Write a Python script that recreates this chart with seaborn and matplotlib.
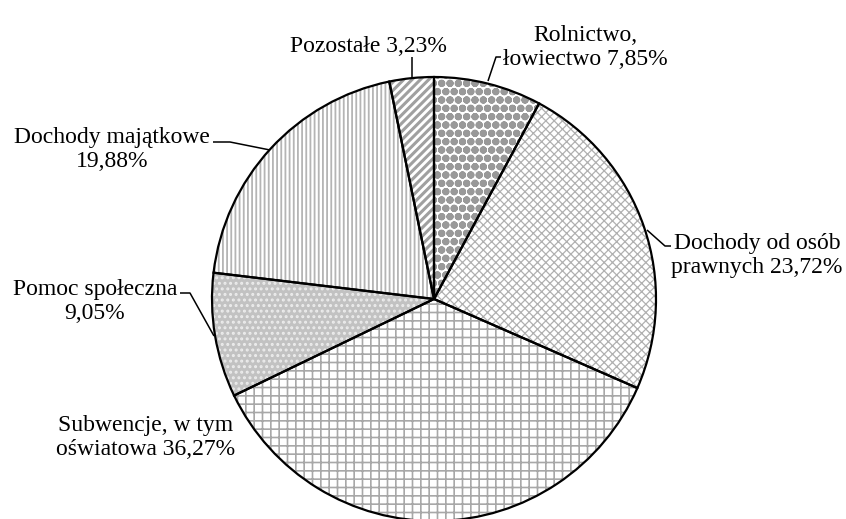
import matplotlib
matplotlib.use('Agg')
import matplotlib.pyplot as plt
import seaborn as sns

# ---- data ----
categories = ["Rolnictwo, łowiectwo", "Dochody od osób prawnych",
              "Subwencje, w tym oświatowa", "Pomoc społeczna",
              "Dochody majątkowe", "Pozostałe"]
shares = [7.85, 23.72, 36.27, 9.05, 19.88, 3.23]
label_texts = ["Rolnictwo,\nłowiectwo 7,85%", "Dochody od osób\nprawnych 23,72%",
               "Subwencje, w tym\noświatowa 36,27%", "Pomoc społeczna\n9,05%",
               "Dochody majątkowe\n19,88%", "Pozostałe 3,23%"]

# ---- styles ----
hatches = ['oo', 'xxxx', '++', '...', '||||', '////']
hatch_colors = ['#999999', '#b0b0b0', '#a8a8a8', '#ececec', '#b4b4b4', '#a0a0a0']
face_colors = ['white', 'white', 'white', '#c2c2c2', 'white', 'white']
hatch_lws = [2.8, 0.9, 1.2, 1.4, 1.3, 2.2]

sns.set_theme(style='white')
plt.rcParams['font.family'] = ['Liberation Serif', 'DejaVu Serif']

W, H = 846, 519
fig = plt.figure(figsize=(W / 100, H / 100), dpi=100)
ax = fig.add_axes([0, 0, 1, 1])

cx, cy, R = 434, H - 299, 222

# hatched fill layer
wedges, _ = ax.pie(shares, startangle=90, counterclock=False,
                   center=(cx, cy), radius=R)
for w, h, hc, fc, hl in zip(wedges, hatches, hatch_colors, face_colors, hatch_lws):
    w.set_facecolor(fc)
    w.set_edgecolor(hc)
    w.set_linewidth(0)
    w.set_hatch(h)
    if hasattr(w, 'set_hatch_linewidth'):
        w.set_hatch_linewidth(hl)

# outline layer
wedges2, _ = ax.pie(shares, startangle=90, counterclock=False,
                    center=(cx, cy), radius=R,
                    wedgeprops=dict(fill=False, edgecolor='black', linewidth=1.6))

ax.set_xlim(0, W)
ax.set_ylim(0, H)
ax.set_aspect('equal')
ax.axis('off')

fs = 17
# label positions (x center, baseline of last line) in pixel coords
lab_pos = [(585, 65), (757, 273), (146, 455), (95, 319), (112, 167), (368, 52)]
for txt, (x, y) in zip(label_texts, lab_pos):
    ax.text(x, H - y, txt, ha='center', va='baseline', multialignment='center',
            fontsize=fs, color='black', linespacing=1.18)

# leader lines
leaders = [
    [(488, 81), (496, 57), (501, 57)],
    [(647, 230), (665, 246), (671, 246)],
    [(180, 293), (190, 293), (214, 336)],
    [(213, 142), (230, 142), (270, 150)],
    [(412, 57), (412, 78)],
]
for pts in leaders:
    xs = [p[0] for p in pts]
    ys = [H - p[1] for p in pts]
    ax.plot(xs, ys, color='black', linewidth=1.1, solid_capstyle='butt')

fig.savefig('out.png', dpi=100, facecolor='white')
